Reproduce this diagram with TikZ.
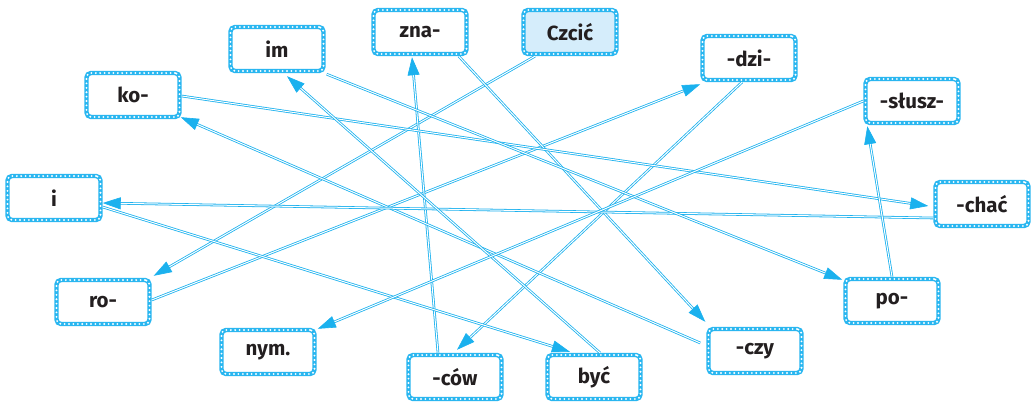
\documentclass[tikz,border=0pt]{standalone}
\usepackage{fontspec}
\setmainfont{Fira Sans}
\usetikzlibrary{arrows.meta,decorations.markings}
\definecolor{lnk}{HTML}{1BB1EE}
\definecolor{brd}{HTML}{29B6F0}
\definecolor{hl}{HTML}{D5EDFB}
\definecolor{txt}{HTML}{231F20}
\tikzset{
  word/.style={rectangle, rounded corners=4.5pt, minimum width=93pt, minimum height=44pt,
    inner sep=0pt, fill=white, text=txt, font=\fontsize{20.5}{24}\selectfont\bfseries,
    draw=brd, line width=4.4pt,
    postaction={draw=white, line width=2.1pt, dash pattern=on 0pt off 4.4pt, line cap=round}},
  hlword/.style={word, fill=hl},
  link/.style={draw=lnk, double=white, double distance=1pt, line width=0.8pt, shorten >=12pt,
    postaction={decorate, decoration={markings,
      mark=at position 1 with {\arrow[lnk, line width=0.6pt]{Triangle[length=18pt,width=12pt]}}}}}
}
\begin{document}
\begin{tikzpicture}[x=1pt,y=-1pt]
\useasboundingbox (0,0) rectangle (1035,402);
\node[word] (im) at (277,49) {im};
\node[word] (zna) at (420,32) {zna-};
\node[word] (ko) at (133,95) {ko-};
\node[hlword] (czcic) at (570,32) {Czcić};
\node[word] (dzi) at (749,58) {-dzi-};
\node[word] (slusz) at (912,101) {-słusz-};
\node[word] (chac) at (982,204) {-chać};
\node[word] (i) at (54,198) {i};
\node[word] (ro) at (103,302) {ro-};
\node[word] (nym) at (268,352) {nym.};
\node[word] (cow) at (455,377) {-ców};
\node[word] (byc) at (594,377) {być};
\node[word] (czy) at (755,351) {-czy};
\node[word] (po) at (892,301) {po-};

\draw[link] ([xshift=-35pt]czcic.south) -- ([xshift=2pt,yshift=2pt]ro.north east);
\draw[link] ([yshift=2pt]ro.east) -- ([yshift=-2pt]dzi.south west);
\draw[link] ([xshift=-7pt]dzi.south) -- ([xshift=2pt,yshift=3pt]cow.north);
\draw[link] ([xshift=-17pt]cow.north) -- ([xshift=-8pt,yshift=-1pt]zna.south);
\draw[link] ([xshift=-10pt]zna.south east) -- ([xshift=-1pt,yshift=5pt]czy.north west);
\draw[link] ([xshift=-6pt,yshift=8pt]czy.west) -- ([xshift=-1pt,yshift=2pt]ko.south east);
\draw[link] ([yshift=-1pt]ko.east) -- ([xshift=-5pt,yshift=-2pt]chac.west);
\draw[link] ([yshift=-14pt]chac.west) -- ([yshift=-5pt]i.east);
\draw[link] ([yshift=-9pt]i.east) -- ([xshift=-24pt,yshift=1pt]byc.north);
\draw[link] ([xshift=6pt]byc.north) -- ([xshift=10pt,yshift=-3pt]im.south);
\draw[link] ([xshift=1pt,yshift=-1pt]im.south east) -- ([xshift=-1pt,yshift=-3pt]po.north west);
\draw[link] (po.north) -- ([xshift=4pt,yshift=-1pt]slusz.south west);
\draw[link] (slusz.west) -- ([xshift=1pt,yshift=-1pt]nym.north east);
\end{tikzpicture}
\end{document}
